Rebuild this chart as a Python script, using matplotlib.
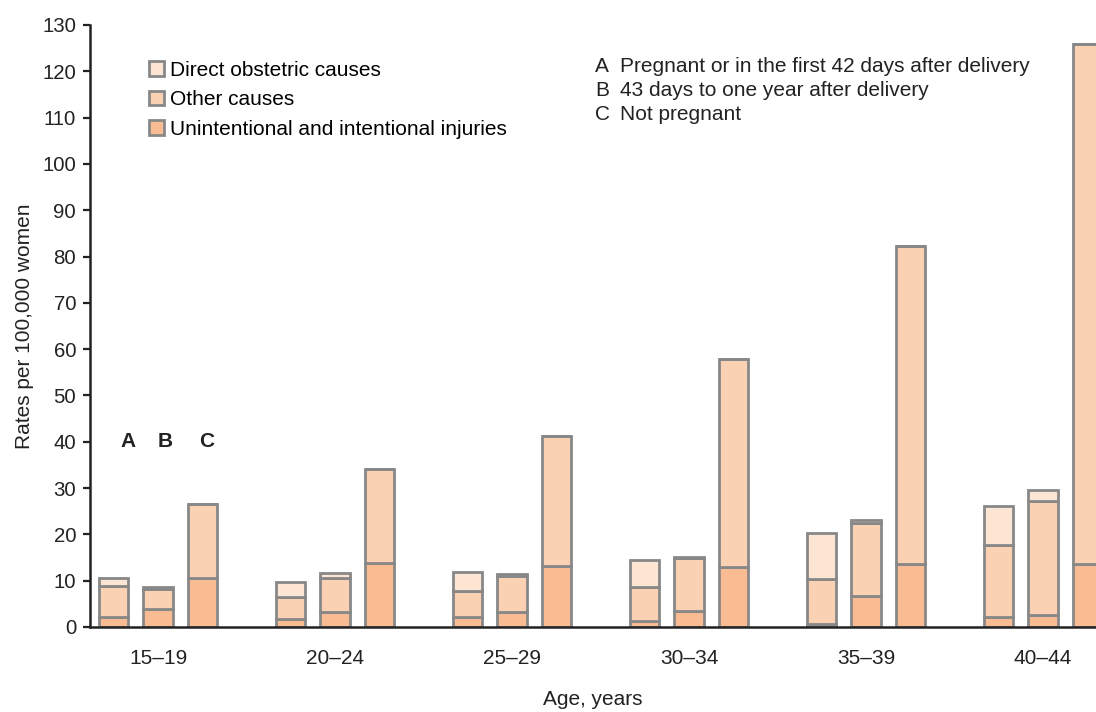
import matplotlib
matplotlib.use("Agg")
import matplotlib.pyplot as plt
import numpy as np
from matplotlib.patches import Patch

plt.rcParams['font.family'] = ['Liberation Sans', 'DejaVu Sans']

# data (rates per 100,000 women)
ages = ["15\u201319", "20\u201324", "25\u201329", "30\u201334", "35\u201339", "40\u201344"]
groups = ["A", "B", "C"]

# rows = age groups, cols = A, B, C
injuries = np.array([
    [2.2, 3.8, 10.6],
    [1.7, 3.2, 13.9],
    [2.1, 3.3, 13.2],
    [1.3, 3.5, 13.0],
    [0.6, 6.6, 13.5],
    [2.2, 2.5, 13.6],
])
other = np.array([
    [6.7, 4.3, 16.0],
    [4.8, 7.4, 20.2],
    [5.7, 7.8, 28.1],
    [7.4, 11.3, 44.9],
    [9.8, 15.9, 68.8],
    [15.4, 24.7, 112.2],
])
direct = np.array([
    [1.6, 0.5, 0.0],
    [3.3, 1.1, 0.0],
    [4.1, 0.3, 0.0],
    [5.8, 0.3, 0.0],
    [9.8, 0.5, 0.0],
    [8.6, 2.4, 0.0],
])

series_names = ["Direct obstetric causes", "Other causes", "Unintentional and intentional injuries"]
col_direct = "#fde5d4"
col_other = "#fbd1b3"
col_inj = "#f8bb92"
edge = "#888888"
txt_col = "#222222"
fs = 15

fig = plt.figure(figsize=(10.96, 7.12), dpi=100)
W, H = 1096, 712
ax = fig.add_axes([90 / W, (H - 627) / H, (W - 90) / W, (627 - 25) / H])

group_pos = np.arange(len(ages)) * 4.0
offsets = [-1, 0, 1]
bw = 0.66
lw = 2.0

for j, off in enumerate(offsets):
    x = group_pos + off
    ax.bar(x, injuries[:, j], width=bw, color=col_inj, edgecolor=edge, linewidth=lw, zorder=2)
    ax.bar(x, other[:, j], width=bw, bottom=injuries[:, j], color=col_other,
           edgecolor=edge, linewidth=lw, zorder=2)
    ax.bar(x, direct[:, j], width=bw, bottom=injuries[:, j] + other[:, j], color=col_direct,
           edgecolor=edge, linewidth=lw, zorder=2)

ax.set_xlim(-1.537, 21.2)
ax.set_ylim(0, 130)
ax.set_yticks(np.arange(0, 131, 10))
ax.set_xticks(group_pos)
ax.set_xticklabels(ages)
ax.tick_params(axis='x', length=0, pad=16, labelsize=fs, colors=txt_col)
ax.tick_params(axis='y', length=5, width=1.6, pad=5, labelsize=fs - 0.3, colors=txt_col)

for s in ['top', 'right']:
    ax.spines[s].set_visible(False)
for s in ['left', 'bottom']:
    ax.spines[s].set_linewidth(1.8)
    ax.spines[s].set_color(txt_col)

ax.set_xlabel("Age, years", fontsize=fs, labelpad=16, color=txt_col)
ax.set_ylabel("Rates per 100,000 women", fontsize=fs, labelpad=6, color=txt_col)

# A B C markers above first group
abc_x = [-0.68, 0.16, 1.1]
for lab, xx in zip(groups, abc_x):
    ax.text(xx, 40, lab, ha='center', va='center', fontsize=15, fontweight='bold', color=txt_col)

handles = [Patch(facecolor=c, edgecolor=edge, linewidth=2.0) for c in (col_direct, col_other, col_inj)]
ax.legend(handles, series_names, loc='upper left', bbox_to_anchor=((149 - 90) / 1006, (627 - 61) / 602),
          frameon=False, fontsize=fs, handlelength=0.7, handleheight=0.7,
          handletextpad=0.3, labelspacing=0.5, borderpad=0, borderaxespad=0)

notes = ["Pregnant or in the first 42 days after delivery",
         "43 days to one year after delivery",
         "Not pregnant"]
for k, (lab, txt) in enumerate(zip(groups, notes)):
    yy = 1 - (67 + 24 * k) / H
    fig.text(595 / W, yy, lab, ha='left', va='center', fontsize=fs, color=txt_col)
    fig.text(620 / W, yy, txt, ha='left', va='center', fontsize=fs, color=txt_col)

fig.savefig("out.png", dpi=100)
